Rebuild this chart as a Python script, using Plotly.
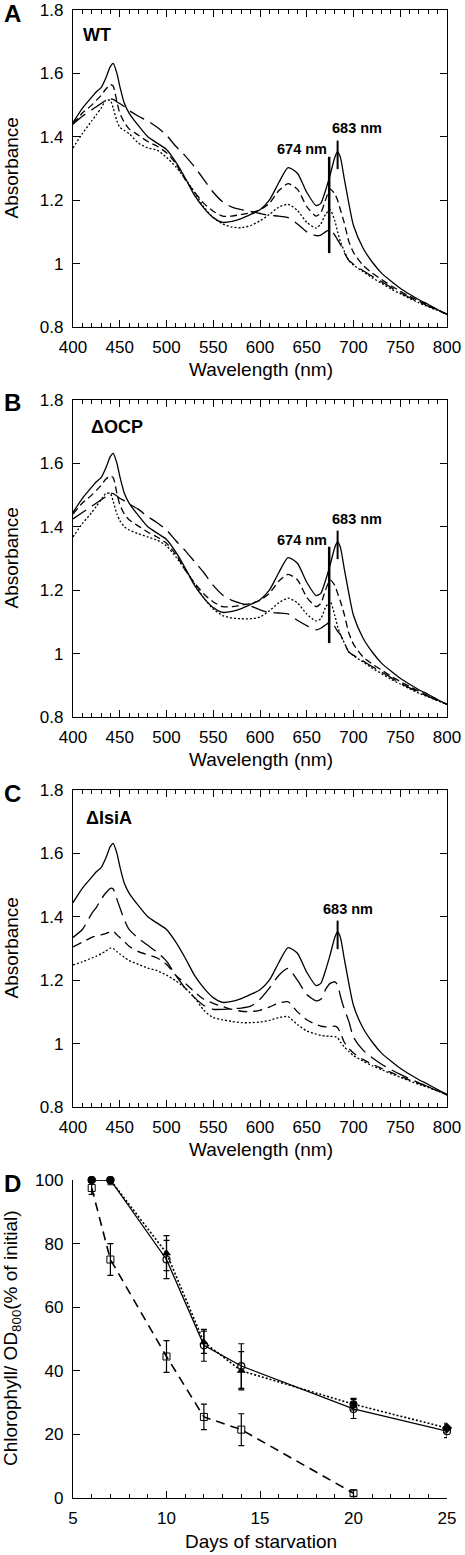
import plotly.graph_objects as go

# ---------------- data ----------------
wavelength = [400, 410, 420, 425, 430, 435, 440, 443, 447, 450, 455, 460, 470, 480, 490, 500, 510, 520, 530, 540,
              550, 560, 570, 580, 590, 600, 610, 620, 630, 640, 650, 660, 665, 670, 675, 680, 683, 686, 690, 695,
              700, 710, 720, 730, 740, 750, 760, 770, 780, 790, 800]

# initial spectrum (solid) – same in A, B, C
solid_initial = [1.445, 1.49, 1.525, 1.542, 1.555, 1.585, 1.622, 1.632, 1.60, 1.56, 1.505, 1.475, 1.435, 1.40, 1.38,
                 1.36, 1.32, 1.27, 1.215, 1.175, 1.145, 1.13, 1.133, 1.142, 1.155, 1.17, 1.20, 1.255, 1.303, 1.285,
                 1.225, 1.183, 1.19, 1.23, 1.28, 1.335, 1.352, 1.335, 1.27, 1.19, 1.12, 1.05, 1.005, 0.97, 0.945,
                 0.922, 0.903, 0.886, 0.871, 0.855, 0.84]

# Panel A (WT)
wt_meddash = [1.44, 1.475, 1.50, 1.515, 1.53, 1.55, 1.565, 1.56, 1.51, 1.475, 1.445, 1.425, 1.405, 1.385, 1.37,
              1.35, 1.315, 1.265, 1.225, 1.19, 1.165, 1.15, 1.15, 1.155, 1.16, 1.17, 1.19, 1.23, 1.252, 1.235,
              1.18, 1.15, 1.16, 1.20, 1.235, 1.22, 1.20, 1.17, 1.13, 1.07, 1.035, 0.995, 0.97, 0.95, 0.93,
              0.913, 0.897, 0.882, 0.868, 0.854, 0.84]
wt_longdash = [1.44, 1.465, 1.485, 1.495, 1.505, 1.515, 1.52, 1.518, 1.51, 1.505, 1.495, 1.483, 1.465, 1.45, 1.43,
               1.405, 1.37, 1.34, 1.305, 1.265, 1.225, 1.195, 1.178, 1.17, 1.165, 1.158, 1.152, 1.15, 1.145, 1.125,
               1.10, 1.088, 1.09, 1.10, 1.108, 1.09, 1.075, 1.06, 1.035, 1.01, 0.998, 0.978, 0.96, 0.943, 0.925,
               0.908, 0.893, 0.879, 0.866, 0.853, 0.84]
wt_dotted = [1.365, 1.41, 1.45, 1.47, 1.49, 1.515, 1.515, 1.49, 1.45, 1.43, 1.42, 1.41, 1.38, 1.365, 1.358,
             1.335, 1.305, 1.268, 1.225, 1.178, 1.145, 1.125, 1.115, 1.113, 1.12, 1.135, 1.155, 1.178, 1.187, 1.168,
             1.13, 1.112, 1.125, 1.155, 1.17, 1.135, 1.10, 1.07, 1.04, 1.01, 0.995, 0.975, 0.955, 0.938, 0.92,
             0.905, 0.89, 0.876, 0.864, 0.852, 0.84]

# Panel B (ΔOCP)
ocp_meddash = [1.44, 1.475, 1.50, 1.515, 1.53, 1.55, 1.56, 1.555, 1.505, 1.47, 1.44, 1.422, 1.402, 1.383, 1.368,
               1.348, 1.313, 1.263, 1.223, 1.188, 1.163, 1.148, 1.148, 1.153, 1.158, 1.168, 1.19, 1.228, 1.25, 1.233,
               1.178, 1.148, 1.158, 1.20, 1.232, 1.215, 1.19, 1.165, 1.125, 1.065, 1.03, 0.99, 0.967, 0.948, 0.929,
               0.912, 0.896, 0.881, 0.867, 0.853, 0.84]
ocp_longdash = [1.425, 1.445, 1.465, 1.475, 1.485, 1.495, 1.505, 1.505, 1.497, 1.49, 1.482, 1.472, 1.455, 1.432,
                1.413, 1.39, 1.356, 1.325, 1.29, 1.255, 1.215, 1.185, 1.168, 1.158, 1.15, 1.138, 1.13, 1.128, 1.125,
                1.105, 1.088, 1.075, 1.08, 1.09, 1.10, 1.085, 1.07, 1.06, 1.035, 1.005, 0.995, 0.977, 0.959, 0.942,
                0.924, 0.907, 0.892, 0.878, 0.865, 0.852, 0.84]
ocp_dotted = [1.368, 1.41, 1.445, 1.465, 1.485, 1.505, 1.505, 1.48, 1.44, 1.42, 1.40, 1.39, 1.378, 1.368, 1.358,
              1.34, 1.305, 1.265, 1.22, 1.175, 1.14, 1.12, 1.112, 1.11, 1.11, 1.115, 1.135, 1.16, 1.175, 1.16,
              1.125, 1.103, 1.11, 1.145, 1.165, 1.12, 1.085, 1.06, 1.035, 1.005, 0.993, 0.974, 0.954, 0.937, 0.919,
              0.904, 0.889, 0.875, 0.863, 0.851, 0.84]

# Panel C (ΔIsiA)
isia_longdash = [1.335, 1.36, 1.41, 1.43, 1.455, 1.475, 1.49, 1.488, 1.455, 1.43, 1.39, 1.36, 1.332, 1.31, 1.288,
                 1.26, 1.215, 1.175, 1.145, 1.12, 1.108, 1.108, 1.11, 1.112, 1.118, 1.14, 1.175, 1.215, 1.237, 1.20,
                 1.155, 1.135, 1.14, 1.17, 1.19, 1.195, 1.185, 1.15, 1.11, 1.07, 1.02, 0.98, 0.955, 0.935, 0.918,
                 0.903, 0.889, 0.876, 0.864, 0.852, 0.838]
isia_meddash = [1.305, 1.32, 1.335, 1.34, 1.343, 1.347, 1.353, 1.355, 1.343, 1.335, 1.322, 1.307, 1.29, 1.28, 1.27,
                1.25, 1.215, 1.19, 1.163, 1.14, 1.127, 1.117, 1.108, 1.102, 1.101, 1.105, 1.115, 1.128, 1.132, 1.10,
                1.075, 1.06, 1.055, 1.053, 1.053, 1.055, 1.05, 1.035, 1.005, 0.985, 0.97, 0.95, 0.935, 0.922, 0.909,
                0.897, 0.885, 0.874, 0.863, 0.851, 0.838]
isia_dotted = [1.248, 1.258, 1.27, 1.276, 1.283, 1.292, 1.301, 1.30, 1.29, 1.283, 1.272, 1.262, 1.25, 1.238, 1.23,
               1.216, 1.198, 1.175, 1.145, 1.105, 1.082, 1.075, 1.07, 1.066, 1.066, 1.068, 1.073, 1.082, 1.085, 1.06,
               1.04, 1.03, 1.026, 1.024, 1.023, 1.022, 1.018, 1.005, 0.99, 0.975, 0.962, 0.945, 0.93, 0.918, 0.905,
               0.894, 0.882, 0.871, 0.861, 0.85, 0.838]

# marker lines (wavelength, y-bottom, y-top)
line674 = [674, 1.033, 1.337]
line683 = [683, 1.298, 1.388]

# Panel D
days = [6, 7, 10, 12, 14, 20, 25]
wt_chl = [100, 100, 75, 48, 41.5, 28, 21]
wt_err = [0.5, 1.5, 6, 5, 7, 3, 2]
ocp_chl = [100, 100, 77, 49, 40, 29.5, 22]
ocp_err = [0.5, 1.0, 5.5, 3.5, 6, 1.8, 1.5]
isia_days = [6, 7, 10, 12, 14, 20]
isia_chl = [97.5, 75, 44.5, 25.5, 21.5, 1.5]
isia_err = [2, 5, 5, 4, 5, 1]

# ---------------- layout helpers ----------------
W, H = 465, 1555
FONT = "Liberation Sans, Arial, sans-serif"
X0, X1 = 73, 447


def py(Y):
    return 1 - Y / H


def pxp(X):
    return X / W


panel_tops = [10, 400, 790]  # pixel y of 1.8
panel_h = 317

fig = go.Figure()

spec_sets = [
    [(solid_initial, "solid"), (wt_meddash, "7px,4px"), (wt_longdash, "16px,7px"), (wt_dotted, "2px,2px")],
    [(solid_initial, "solid"), (ocp_meddash, "7px,4px"), (ocp_longdash, "16px,7px"), (ocp_dotted, "2px,2px")],
    [(solid_initial, "solid"), (isia_longdash, "18px,7px"), (isia_meddash, "9px,6px"), (isia_dotted, "2px,2px")],
]

axis_common = dict(showline=True, linecolor="black", linewidth=1.3, showgrid=False, zeroline=False,
                   ticks="inside", ticklen=7, tickwidth=1, tickcolor="black", automargin=False,
                   tickfont=dict(family=FONT, size=17, color="black"))

for i, curves in enumerate(spec_sets):
    k = i + 1
    xa = "x" if k == 1 else f"x{k}"
    ya = "y" if k == 1 else f"y{k}"
    for vals, dash in curves:
        fig.add_trace(go.Scatter(x=wavelength, y=vals, mode="lines", xaxis=xa, yaxis=ya,
                                 line=dict(color="black", width=1.3, dash=dash, shape="spline", smoothing=0.6),
                                 showlegend=False, hoverinfo="skip"))
    top = panel_tops[i]
    fig.layout[f"xaxis{'' if k == 1 else k}"] = dict(
        axis_common, domain=[pxp(X0), pxp(X1)], range=[400, 800], tick0=400, dtick=50,
        anchor=ya, mirror="allticks", ticklabelstandoff=4,
        minor=dict(dtick=10, ticks="inside", ticklen=4, tickwidth=1, tickcolor="black"))
    fig.layout[f"yaxis{'' if k == 1 else k}"] = dict(
        axis_common, domain=[py(top + panel_h), py(top)], range=[0.7999, 1.8001], tick0=0.8, dtick=0.2,
        anchor=xa, mirror="allticks", ticklabelstandoff=5)

    # marker lines
    if k in (1, 2):
        fig.add_shape(type="line", xref=xa, yref=ya, x0=line674[0], x1=line674[0], y0=line674[1], y1=line674[2],
                      line=dict(color="black", width=2.5))
    fig.add_shape(type="line", xref=xa, yref=ya, x0=line683[0], x1=line683[0], y0=line683[1], y1=line683[2],
                  line=dict(color="black", width=2))

    # axis titles
    fig.add_annotation(text="Absorbance", xref="paper", yref="paper", x=pxp(11), y=py(top + 158.5),
                       textangle=-90, showarrow=False, xanchor="center", yanchor="middle",
                       font=dict(family=FONT, size=19, color="black"))
    fig.add_annotation(text="Wavelength (nm)", xref="paper", yref="paper", x=pxp(261), y=py(top + 359),
                       showarrow=False, xanchor="center", yanchor="middle",
                       font=dict(family=FONT, size=19, color="black"))

# panel-specific labels
letters = [("A", 12, 13), ("B", 12, 403), ("C", 12, 793), ("D", 12, 1183)]
for t, X, Y in letters:
    fig.add_annotation(text=f"<b>{t}</b>", xref="paper", yref="paper", x=pxp(X), y=py(Y), showarrow=False,
                       xanchor="center", yanchor="middle", font=dict(family=FONT, size=24, color="black"))

insets = [("WT", 97, 34.5), ("ΔOCP", 117, 427), ("ΔIsiA", 109, 818)]
for t, X, Y in insets:
    fig.add_annotation(text=f"<b>{t}</b>", xref="paper", yref="paper", x=pxp(X), y=py(Y), showarrow=False,
                       xanchor="center", yanchor="middle", font=dict(family=FONT, size=18, color="black"))

nm_labels = [("674 nm", 302, 149), ("683 nm", 357, 128), ("674 nm", 302, 540), ("683 nm", 357, 519),
             ("683 nm", 348, 909)]
for t, X, Y in nm_labels:
    fig.add_annotation(text=f"<b>{t}</b>", xref="paper", yref="paper", x=pxp(X), y=py(Y), showarrow=False,
                       xanchor="center", yanchor="middle", font=dict(family=FONT, size=14.5, color="black"))

# ---------------- Panel D ----------------
fig.add_trace(go.Scatter(x=isia_days, y=isia_chl, mode="lines+markers", xaxis="x4", yaxis="y4",
                         line=dict(color="black", width=1.6, dash="9px,6px"),
                         marker=dict(symbol="square-open", size=7, color="black", line=dict(width=1)),
                         error_y=dict(type="data", array=isia_err, color="black", thickness=1.2, width=3),
                         cliponaxis=False, showlegend=False, hoverinfo="skip"))
fig.add_trace(go.Scatter(x=days, y=ocp_chl, mode="lines+markers", xaxis="x4", yaxis="y4",
                         line=dict(color="black", width=1.6, dash="2px,2px"),
                         marker=dict(symbol=["circle", "circle", "triangle-up", "triangle-up", "triangle-up",
                                             "circle", "diamond"], size=8, color="black"),
                         error_y=dict(type="data", array=ocp_err, color="black", thickness=1.2, width=3),
                         cliponaxis=False, showlegend=False, hoverinfo="skip"))
fig.add_trace(go.Scatter(x=days, y=wt_chl, mode="lines+markers", xaxis="x4", yaxis="y4",
                         line=dict(color="black", width=1.3),
                         marker=dict(symbol="circle-open", size=7, color="black", line=dict(width=1.2)),
                         error_y=dict(type="data", array=wt_err, color="black", thickness=1.2, width=3),
                         cliponaxis=False, showlegend=False, hoverinfo="skip"))

fig.layout["xaxis4"] = dict(axis_common, domain=[pxp(X0), pxp(X1)], range=[5, 25], tick0=5, dtick=5,
                            anchor="y4", ticklabelstandoff=4,
                            minor=dict(dtick=1, ticks="inside", ticklen=4, tickwidth=1, tickcolor="black"))
fig.layout["yaxis4"] = dict(axis_common, domain=[py(1498), py(1180)], range=[0, 100], tick0=0, dtick=20,
                            anchor="x4", ticklabelstandoff=5)

fig.add_annotation(text="Chlorophyll/ OD<sub>800</sub>(% of initial)", xref="paper", yref="paper",
                   x=pxp(12), y=py(1338), textangle=-90, showarrow=False, xanchor="center", yanchor="middle",
                   font=dict(family=FONT, size=19, color="black"))
fig.add_annotation(text="Days of starvation", xref="paper", yref="paper", x=pxp(261), y=py(1541),
                   showarrow=False, xanchor="center", yanchor="middle",
                   font=dict(family=FONT, size=19, color="black"))

fig.update_layout(width=W, height=H, margin=dict(l=0, r=0, t=0, b=0, autoexpand=False), plot_bgcolor="white",
                  paper_bgcolor="white", font=dict(family=FONT, color="black"))

fig.write_html("out.html", config={"displayModeBar": False},
               post_script="document.body.style.margin='0';document.body.style.overflow='hidden';"
                           "document.documentElement.style.overflow='hidden';")
